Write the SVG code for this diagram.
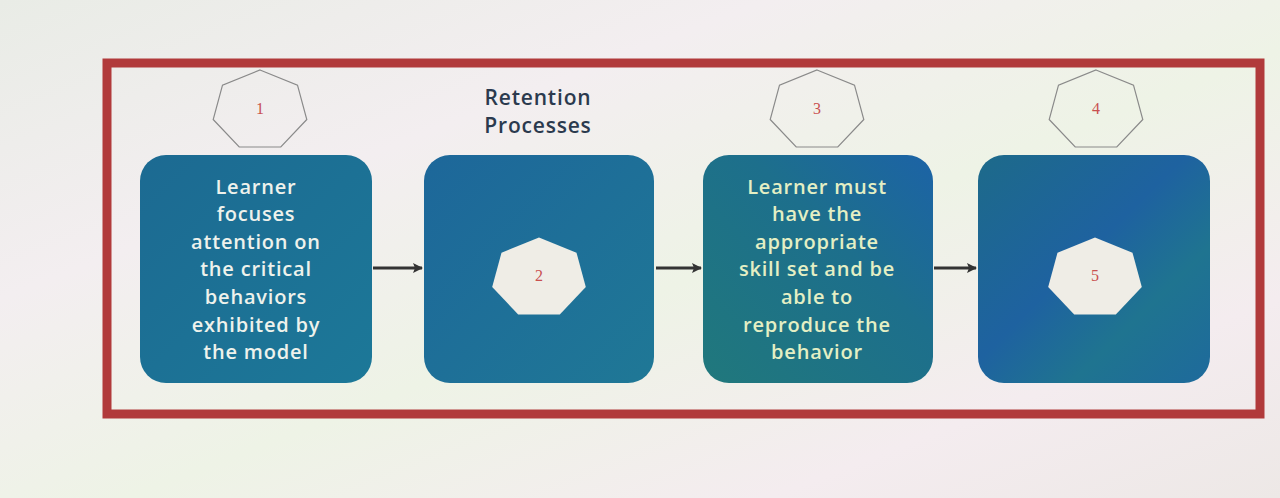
<svg xmlns="http://www.w3.org/2000/svg" xmlns:xlink="http://www.w3.org/1999/xlink" width="1280" height="498" viewBox="0 0 1280 498">
<defs>
<linearGradient id="bg" x1="0" y1="0" x2="1" y2="1">
<stop offset="0" stop-color="#e9ece6"/>
<stop offset="0.3" stop-color="#f3eef0"/>
<stop offset="0.55" stop-color="#eef3e6"/>
<stop offset="0.8" stop-color="#f4ecef"/>
<stop offset="1" stop-color="#ede8e6"/>
</linearGradient>
<linearGradient id="g1" x1="0" y1="0" x2="1" y2="1">
<stop offset="0" stop-color="#1c6a92"/>
<stop offset="1" stop-color="#1c7898"/>
</linearGradient>
<linearGradient id="g2" x1="0" y1="0" x2="1" y2="1">
<stop offset="0" stop-color="#1d679a"/>
<stop offset="1" stop-color="#1f7896"/>
</linearGradient>
<linearGradient id="g3" x1="0" y1="1" x2="1" y2="0">
<stop offset="0" stop-color="#20787c"/>
<stop offset="0.6" stop-color="#1d6f8c"/>
<stop offset="1" stop-color="#1c63a6"/>
</linearGradient>
<linearGradient id="g4" x1="0" y1="0" x2="1" y2="1">
<stop offset="0" stop-color="#1d6a8a"/>
<stop offset="0.45" stop-color="#1e62a0"/>
<stop offset="0.7" stop-color="#1f7490"/>
<stop offset="1" stop-color="#1e6a9c"/>
</linearGradient>
<polygon id="hept" points="0,-40.5 37.5,-25.3 46.8,9 20.8,36.5 -20.8,36.5 -46.8,9 -37.5,-25.3"/>
<marker id="arr" markerWidth="10" markerHeight="10" refX="9" refY="5" orient="auto" markerUnits="userSpaceOnUse">
<path d="M0,0 L10,5 L0,10 L2,5 Z" fill="#333"/>
</marker>
<style>
.box{stroke:none}
.txt{font-family:"Open Sans",Lato,"Liberation Sans",sans-serif;font-size:20px;font-weight:600;letter-spacing:0.8px;text-anchor:middle}
.wt{fill:#eef2ec}
.yt{fill:#e4efc4}
.num{font-family:"Liberation Serif","DejaVu Serif",serif;font-size:16px;fill:#c9504f;text-anchor:middle}
.ho{fill:none;stroke:#8a8a8a;stroke-width:1.2}
.hf{fill:#efede6;stroke:none}
.conn{stroke:#333;stroke-width:3;fill:none}
</style>
</defs>
<rect width="1280" height="498" fill="url(#bg)"/>
<rect id="frame" x="107" y="63" width="1153" height="351" fill="none" stroke="#b13a3b" stroke-width="9"/>

<g id="h1"><use xlink:href="#hept" class="ho" transform="translate(260,110.5)"/><text class="num" x="260" y="114">1</text></g>
<g id="title"><text x="538" y="105" class="txt" style="fill:#2b3a4e;font-size:21px">Retention</text><text x="538" y="133" class="txt" style="fill:#2b3a4e;font-size:21px">Processes</text></g>
<g id="h3"><use xlink:href="#hept" class="ho" transform="translate(817,110.5)"/><text class="num" x="817" y="114">3</text></g>
<g id="h4"><use xlink:href="#hept" class="ho" transform="translate(1096,110.5)"/><text class="num" x="1096" y="114">4</text></g>

<g id="box1"><rect class="box" x="140" y="155" width="232" height="228" rx="26" fill="url(#g1)"/>
<text class="txt wt"><tspan x="256" y="194">Learner</tspan><tspan x="256" y="221">focuses</tspan><tspan x="256" y="249">attention on</tspan><tspan x="256" y="276">the critical</tspan><tspan x="256" y="304">behaviors</tspan><tspan x="256" y="332">exhibited by</tspan><tspan x="256" y="359">the model</tspan></text></g>

<g id="box2"><rect class="box" x="424" y="155" width="230" height="228" rx="26" fill="url(#g2)"/>
<use xlink:href="#hept" class="hf" transform="translate(539,278)"/><text class="num" x="539" y="281">2</text></g>

<g id="box3"><rect class="box" x="703" y="155" width="230" height="228" rx="26" fill="url(#g3)"/>
<text class="txt yt"><tspan x="817" y="194">Learner must</tspan><tspan x="817" y="221">have the</tspan><tspan x="817" y="249">appropriate</tspan><tspan x="817" y="276">skill set and be</tspan><tspan x="817" y="304">able to</tspan><tspan x="817" y="332">reproduce the</tspan><tspan x="817" y="359">behavior</tspan></text></g>

<g id="box4"><rect class="box" x="978" y="155" width="232" height="228" rx="26" fill="url(#g4)"/>
<use xlink:href="#hept" class="hf" transform="translate(1095,278)"/><text class="num" x="1095" y="281">5</text></g>

<g id="connectors">
<line class="conn" x1="373" y1="268" x2="422" y2="268" marker-end="url(#arr)"/>
<line class="conn" x1="656" y1="268" x2="701" y2="268" marker-end="url(#arr)"/>
<line class="conn" x1="934" y1="268" x2="976" y2="268" marker-end="url(#arr)"/>
</g>
</svg>
